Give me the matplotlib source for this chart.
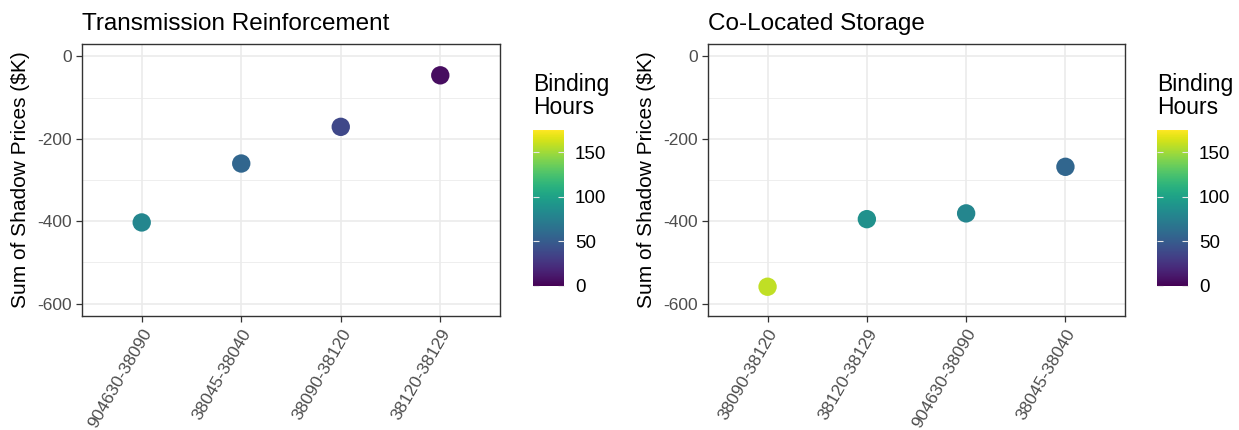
import matplotlib

matplotlib.use("Agg")

import matplotlib.pyplot as plt
from matplotlib.colors import Normalize

plt.rcParams["font.family"] = ["Liberation Sans", "DejaVu Sans"]
plt.rcParams["axes.unicode_minus"] = False

# shadow price sums ($K) and binding hours per constraint
trans_labels = ["904630-38090", "38045-38040", "38090-38120", "38120-38129"]
trans_price = [-403, -260, -171, -46]
trans_hours = [80, 57, 38, 6]

storage_labels = ["38090-38120", "38120-38129", "904630-38090", "38045-38040"]
storage_price = [-559, -395, -381, -268]
storage_hours = [158, 88, 80, 57]

panel_titles = ["Transmission Reinforcement", "Co-Located Storage"]
hour_limits = (0, 175)
y_limits = (-630, 30)
y_ticks = [0, -200, -400, -600]
y_minor = [-100, -300, -500]

W, H = 1239, 430
DPI = 100


def px_axes(fig, x0, y0, x1, y1):
    # pixel box (top-left origin) -> figure axes
    return fig.add_axes([x0 / W, 1 - y1 / H, (x1 - x0) / W, (y1 - y0) / H])


def draw_panel(fig, box, cbox, title, labels, prices, hours):
    ax = px_axes(fig, *box)
    norm = Normalize(*hour_limits)
    xs = list(range(1, len(labels) + 1))
    ax.set_xlim(0.4, len(labels) + 0.6)
    ax.set_ylim(*y_limits)
    for v in y_minor:
        ax.axhline(v, color="#ebebeb", lw=0.6, zorder=0)
    for v in y_ticks:
        ax.axhline(v, color="#ebebeb", lw=1.2, zorder=0)
    for x in xs:
        ax.axvline(x, color="#ebebeb", lw=1.2, zorder=0)
    sc = ax.scatter(xs, prices, c=hours, cmap="viridis", norm=norm,
                    s=175, linewidths=0, zorder=3)
    ax.set_xticks(xs)
    ax.set_xticklabels(labels, rotation=60, ha="right", rotation_mode="anchor")
    ax.set_yticks(y_ticks)
    ax.tick_params(colors="#333333", labelcolor="#4d4d4d", labelsize=12.5,
                   length=4, width=0.9)
    for sp in ax.spines.values():
        sp.set_color("#333333")
        sp.set_linewidth(1.0)
    ax.set_ylabel("Sum of Shadow Prices ($K)", fontsize=15, labelpad=5)
    ax.set_title(title, fontsize=17.5, loc="left", pad=10)

    cax = px_axes(fig, *cbox)
    cb = fig.colorbar(sc, cax=cax, ticks=[0, 50, 100, 150])
    cb.outline.set_visible(False)
    cax.yaxis.set_ticks_position("both")
    cax.tick_params(direction="in", color="#e8e8e8", length=4.5, width=0.8,
                    labelsize=13.5, labelcolor="black", pad=8)
    cax.tick_params(labelleft=False, labelright=True)
    cax.text(0, 1.07, "Binding\nHours", transform=cax.transAxes,
             fontsize=16.5, ha="left", va="bottom", linespacing=1.0)


fig = plt.figure(figsize=(W / DPI, H / DPI), dpi=DPI)
draw_panel(fig, (82, 44, 500, 316), (533, 130, 564, 286), panel_titles[0],
           trans_labels, trans_price, trans_hours)
draw_panel(fig, (708, 44, 1125, 316), (1157, 130, 1188, 286), panel_titles[1],
           storage_labels, storage_price, storage_hours)
fig.savefig("out.png", dpi=DPI)
